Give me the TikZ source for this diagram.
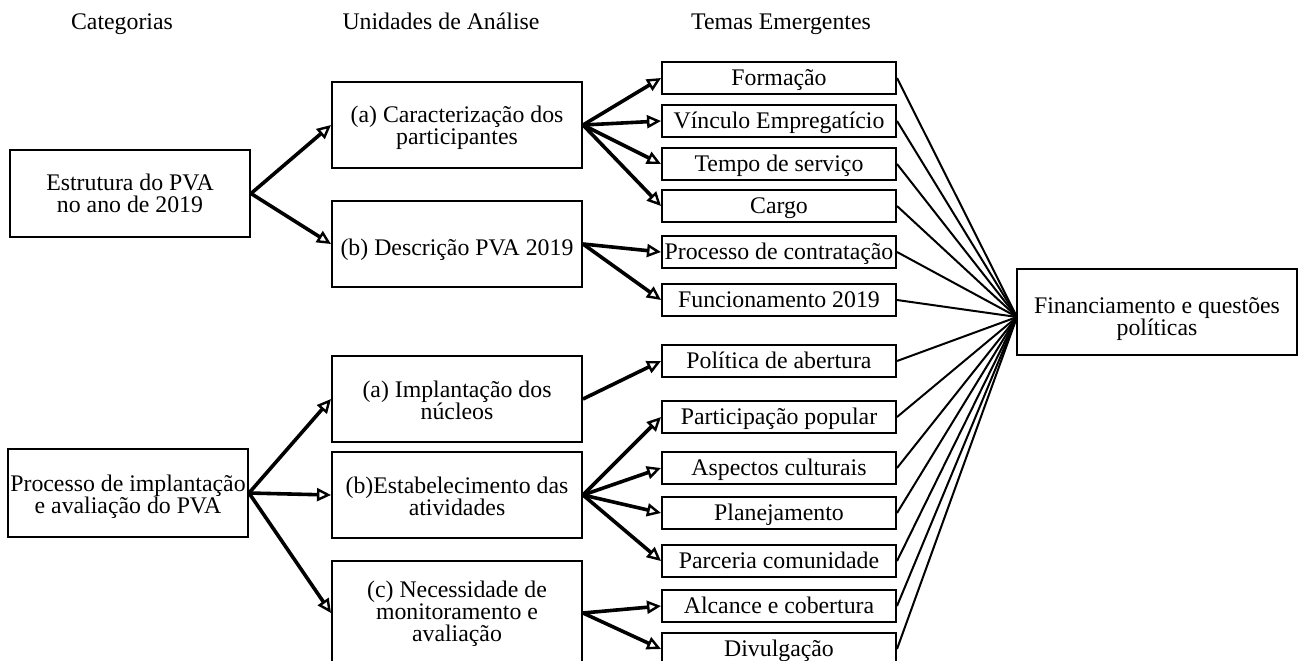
\documentclass[tikz,border=0pt]{standalone}
\usepackage{fontspec}
\setmainfont{Liberation Serif}
\usetikzlibrary{arrows.meta}
\begin{document}
\begin{tikzpicture}[x=0.5pt,y=-0.5pt,
  txt/.style={font=\fontsize{11.9}{11}\selectfont, inner sep=0pt},
  box/.style={txt, draw, line width=1pt, align=center},
  catbox/.style={box, minimum width=120pt, minimum height=43.5pt},
  unitbox/.style={box, minimum width=125pt, minimum height=43pt},
  themebox/.style={box, minimum width=117pt, minimum height=16pt, text height=11.4pt, text depth=4pt},
  finbox/.style={box, minimum width=140pt, minimum height=43pt},
  lastbase/.style={text depth=4pt, text height=#1},
  arr/.style={line width=1.8pt, -{Triangle[open,length=7pt,width=6.5pt,line width=1.2pt]}},
  link/.style={line width=1pt}
]
\useasboundingbox (0,0) rectangle (1299,660);
\clip (0,0) rectangle (1299,660);

% headers
\node[txt, anchor=base] (h1) at (122,29) {Categorias};
\node[txt, anchor=base] (h2) at (441,29) {Unidades de Análise};
\node[txt, anchor=base] (h3) at (781,29) {Temas Emergentes};

% categories
\node[catbox, lastbase=22.5pt] (est) at (130,193.5) {Estrutura do PVA\\no ano de 2019};
\node[catbox, lastbase=24pt, minimum height=44pt] (proc) at (128,493) {Processo de implantação\\e avaliação do PVA};

% units
\node[unitbox, lastbase=23.7pt] (car) at (457,125) {(a) Caracterização dos\\participantes};
\node[unitbox, text height=15pt, text depth=4pt] (desc) at (457,244) {(b) Descrição PVA 2019};
\node[unitbox, lastbase=24pt] (impl) at (457,399) {(a) Implantação dos\\núcleos};
\node[unitbox, lastbase=24pt] (estab) at (457,495) {(b)Estabelecimento das\\atividades};
\node[unitbox, minimum height=52pt, lastbase=32.5pt] (nec) at (457,613) {(c) Necessidade de\\monitoramento e\\avaliação};

% themes
\node[themebox] (t1) at (779,78) {Formação};
\node[themebox] (t2) at (779,121) {Vínculo Empregatício};
\node[themebox] (t3) at (779,164) {Tempo de serviço};
\node[themebox] (t4) at (779,206) {Cargo};
\node[themebox] (t5) at (779,252) {Processo de contratação};
\node[themebox] (t6) at (779,300) {Funcionamento 2019};
\node[themebox] (t7) at (779,361) {Política de abertura};
\node[themebox] (t8) at (779,417) {Participação popular};
\node[themebox] (t9) at (779,468) {Aspectos culturais};
\node[themebox] (t10) at (779,513) {Planejamento};
\node[themebox] (t11) at (779,561) {Parceria comunidade};
\node[themebox] (t12) at (779,606) {Alcance e cobertura};
\node[themebox] (t13) at (779,649) {Divulgação};

% financing
\node[finbox, lastbase=27pt] (fin) at (1157,312) {Financiamento e questões\\políticas};
\coordinate (conv) at (1017,317);

% arrows categories -> units
\draw[arr] (est.east) -- (car.west);
\draw[arr] (est.east) -- (desc.west);
\draw[arr] (proc.east) -- (impl.west);
\draw[arr] (proc.east) -- (estab.west);
\draw[arr] (proc.east) -- (nec.west);

% arrows units -> themes
\foreach \t in {t1,t2,t3,t4} \draw[arr] (car.east) -- (\t.west);
\foreach \t in {t5,t6} \draw[arr] (desc.east) -- (\t.west);
\draw[arr] (impl.east) -- (t7.west);
\foreach \t in {t8,t9,t10,t11} \draw[arr] (estab.east) -- (\t.west);
\foreach \t in {t12,t13} \draw[arr] (nec.east) -- (\t.west);

% links themes -> financing
\foreach \t in {t1,t2,t3,t4,t5,t6,t7,t8,t9,t10,t11,t12,t13} \draw[link] (\t.east) -- (conv);
\end{tikzpicture}
\end{document}
